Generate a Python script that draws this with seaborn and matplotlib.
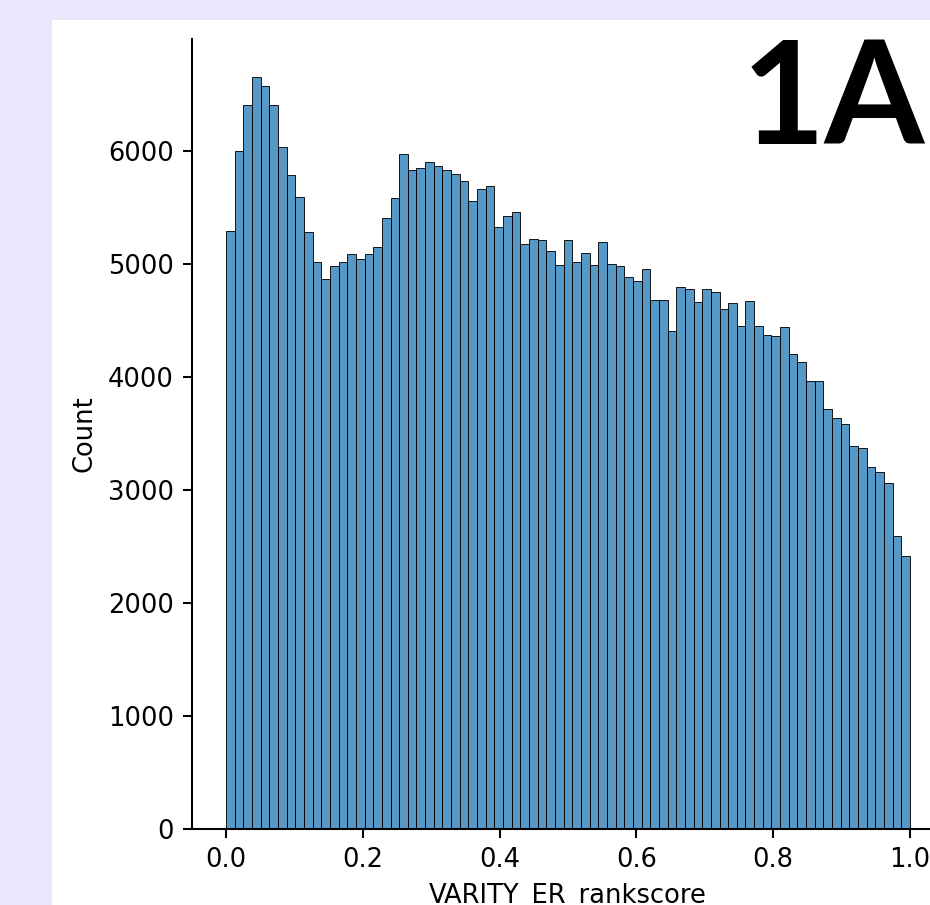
import numpy as np
import pandas as pd
import seaborn as sns
import matplotlib.pyplot as plt
from matplotlib.patches import Rectangle

# 79 bins between 0 and 1, counts
n_bins = 79
counts = [
    5286, 5994, 6401, 6655, 6569, 6401, 6029, 5781, 5590, 5277,
    5012, 4864, 4976, 5012, 5088, 5044, 5088, 5147, 5404, 5581,
    5973, 5832, 5847, 5897, 5867, 5832, 5798, 5729, 5551, 5664,
    5690, 5321, 5419, 5454, 5174, 5221, 5206, 5109, 4991, 5209,
    5012, 5094, 4991, 5189, 5000, 4976, 4879, 4850, 4956, 4681,
    4681, 4401, 4797, 4776, 4661, 4779, 4746, 4599, 4652, 4451,
    4667, 4451, 4372, 4357, 4437, 4204, 4127, 3959, 3959, 3713,
    3631, 3581, 3389, 3369, 3206, 3156, 3059, 2593, 2416,
]
edges = np.linspace(0, 1, n_bins + 1)
df = pd.DataFrame({
    "VARITY_ER_rankscore": (edges[:-1] + edges[1:]) / 2,
    "n": counts,
})

fig = plt.figure(figsize=(930 / 185, 905 / 185), dpi=185, facecolor="#eae8fd")
# white notebook cell behind the plot
fig.patches.append(Rectangle((52 / 930, 0), 1, (905 - 20) / 905,
                             transform=fig.transFigure, facecolor="white",
                             edgecolor="none", zorder=-5))

ax = fig.add_axes([191.8 / 930, 76 / 905, 752.4 / 930, 790 / 905])
ax.set_facecolor("white")
sns.histplot(data=df, x="VARITY_ER_rankscore", weights="n",
             bins=n_bins, binrange=(0, 1), ax=ax)
sns.despine(ax=ax)

fig.text(742 / 930, (905 - 144) / 905, "1A", fontsize=56, fontweight="bold",
         family="Lato", ha="left", va="baseline")

fig.savefig("out.png", dpi=185, facecolor=fig.get_facecolor())
